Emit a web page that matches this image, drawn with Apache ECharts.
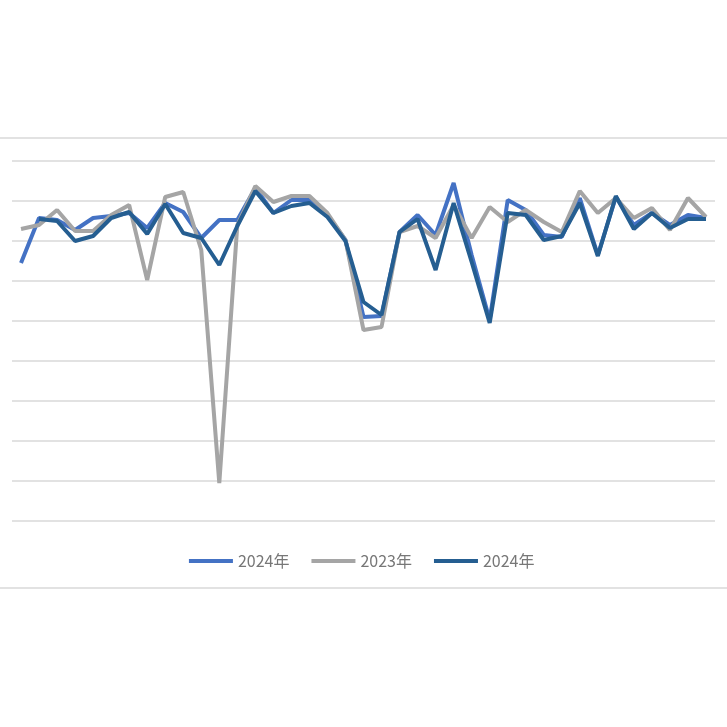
<!DOCTYPE html>
<html><head><meta charset="utf-8">
<script src="https://cdn.jsdelivr.net/npm/echarts@6/dist/echarts.min.js"></script>
<style>html,body{margin:0;padding:0;background:#fff}#chart1{width:727px;height:727px}</style>
</head><body><div id="chart1"></div>
<script>
// values read as pixel rows, converted to 0-9 scale
const px1 = [263,218,220,230,218,216,213,228,203,212,238,220,220,188,213,200,200,215,240,317,316,232,215,235,183,255,320,200,210,235,237,198,255,197,225,213,225,215,218];
const px2 = [229,225,210,231,231,215,205,280,197,192,250,483,225,186,202,196,196,213,240,330,327,232,226,238,205,238,207,222,210,222,232,191,213,198,218,208,230,198,217];
const px3 = [null,219,221,241,236,218,212,234,204,233,238,265,226,191,213,206,203,217,241,302,315,232,219,270,203,262,323,213,215,240,236,203,256,196,229,213,228,219,219];
const toVal = a => a.map(v => v == null ? null : +((521 - v) / 40).toFixed(3));
const categories = px1.map((_, i) => String(i + 1));
const colors = ['#4472C4', '#A5A5A5', '#255E91'];

var myChart1 = echarts.init(document.getElementById('chart1'));
function line(name, data, color) {
    return { name: name, type: 'line', data: data, symbol: 'none', lineStyle: { width: 4, color: color }, itemStyle: { color: color } };
}
myChart1.setOption({
    animation: false,
    grid: { left: 12, right: 12, top: 161, bottom: 206 },
    legend: {
        top: 548, left: 'center', itemWidth: 44, itemHeight: 4, itemGap: 22, icon: 'rect',
        textStyle: { color: '#777', fontSize: 16, fontFamily: 'Noto Sans CJK SC' },
        data: [{ name: '2024年' }, { name: '2023年' }, { name: '2024年 ' }]
    },
    xAxis: { type: 'category', data: categories, boundaryGap: true, axisLine: { show: false }, axisTick: { show: false }, axisLabel: { show: false } },
    yAxis: { type: 'value', min: 0, max: 9, interval: 1, axisLabel: { show: false }, splitLine: { lineStyle: { color: '#d9d9d9', width: 1.5 } } },
    graphic: [
        { type: 'line', shape: { x1: 0, y1: 138, x2: 727, y2: 138 }, style: { stroke: '#d9d9d9', lineWidth: 1.5 } },
        { type: 'line', shape: { x1: 0, y1: 588, x2: 727, y2: 588 }, style: { stroke: '#d9d9d9', lineWidth: 1.5 } }
    ],
    series: [
        line('2024年', toVal(px1), colors[0]),
        line('2023年', toVal(px2), colors[1]),
        line('2024年 ', toVal(px3), colors[2])
    ]
});
</script></body></html>
